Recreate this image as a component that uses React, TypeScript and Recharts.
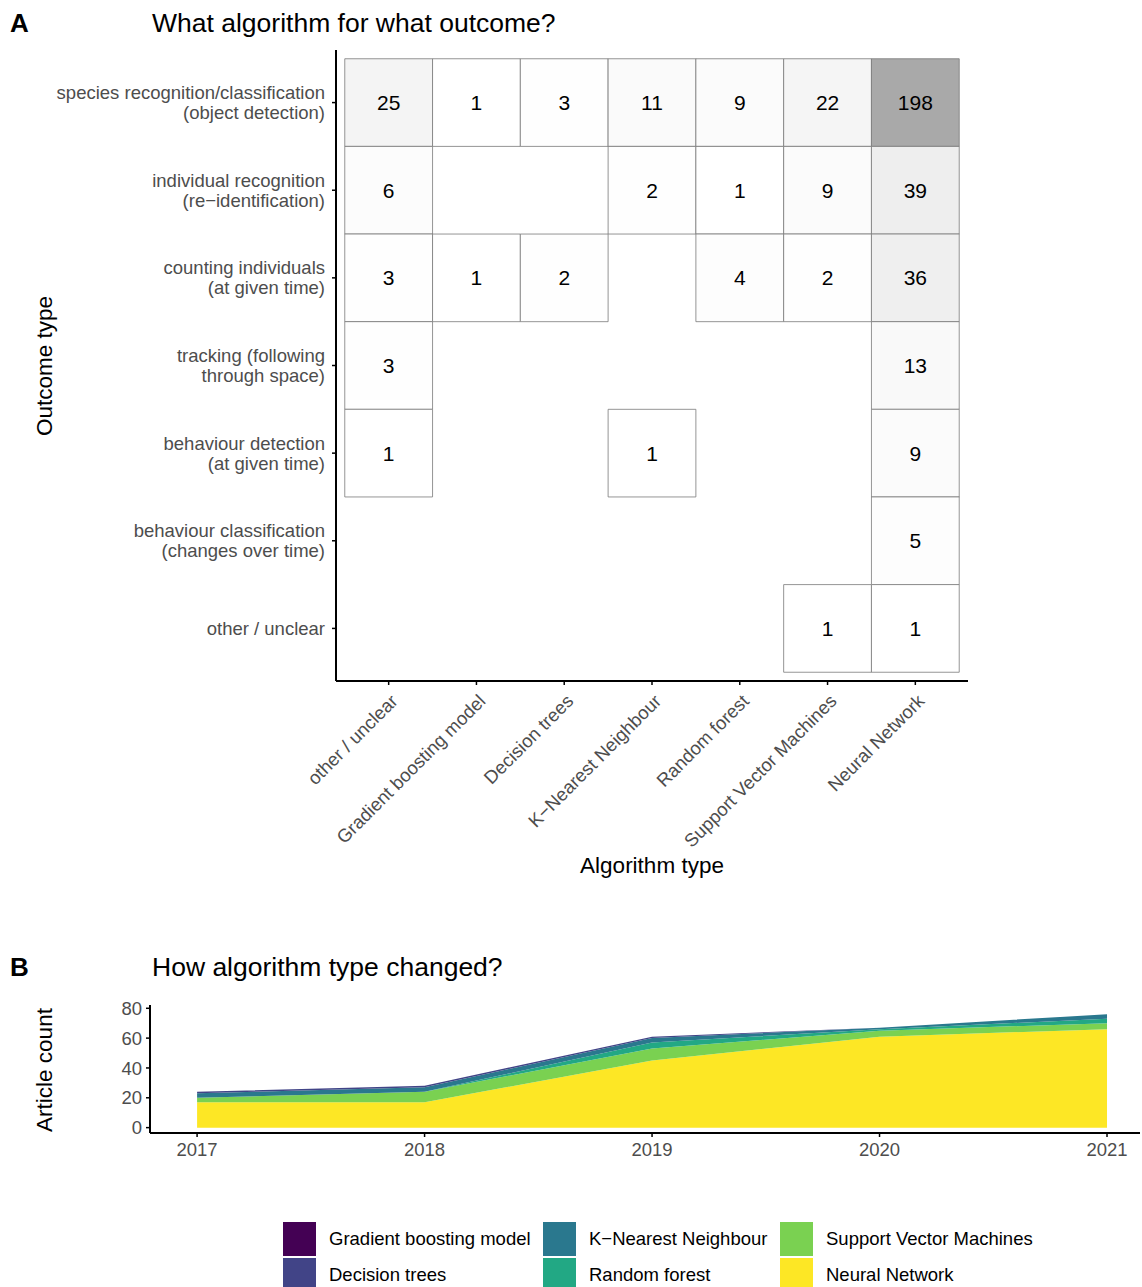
import React from 'react';
import { ScatterChart, Scatter, XAxis, YAxis, ReferenceArea, AreaChart, Area } from 'recharts';

const FONT = '"Liberation Sans", Arial, Helvetica, sans-serif';

// ---------- Panel A data ----------
const algorithms = [
  'other / unclear',
  'Gradient boosting model',
  'Decision trees',
  'K\u2212Nearest Neighbour',
  'Random forest',
  'Support Vector Machines',
  'Neural Network',
];

const outcomeLabels: string[][] = [
  ['species recognition/classification', '(object detection)'],
  ['individual recognition', '(re\u2212identification)'],
  ['counting individuals', '(at given time)'],
  ['tracking (following', 'through space)'],
  ['behaviour detection', '(at given time)'],
  ['behaviour classification', '(changes over time)'],
  ['other / unclear'],
];

const counts: (number | null)[][] = [
  [25, 1, 3, 11, 9, 22, 198],
  [6, null, null, 2, 1, 9, 39],
  [3, 1, 2, null, 4, 2, 36],
  [3, null, null, null, null, null, 13],
  [1, null, null, 1, null, null, 9],
  [null, null, null, null, null, null, 5],
  [null, null, null, null, null, 1, 1],
];

// ---------- Panel B data ----------
const years = [2017, 2018, 2019, 2020, 2021];
const neuralNetwork = [17, 17, 45, 61, 66];
const supportVectorMachines = [3, 7, 8, 4, 4];
const randomForest = [0, 0, 4, 1, 3];
const kNearestNeighbour = [3, 3, 3, 1, 3];
const decisionTrees = [1, 1, 1, 0, 0];
const gradientBoosting = [0, 0, 0, 0, 0];

const series = [
  { key: 'nn', name: 'Neural Network', color: '#FDE725', values: neuralNetwork },
  { key: 'svm', name: 'Support Vector Machines', color: '#7AD151', values: supportVectorMachines },
  { key: 'rf', name: 'Random forest', color: '#22A884', values: randomForest },
  { key: 'knn', name: 'K\u2212Nearest Neighbour', color: '#2A788E', values: kNearestNeighbour },
  { key: 'dt', name: 'Decision trees', color: '#414487', values: decisionTrees },
  { key: 'gb', name: 'Gradient boosting model', color: '#440154', values: gradientBoosting },
];
const legendOrder = ['gb', 'dt', 'knn', 'rf', 'svm', 'nn'];

const nRows = outcomeLabels.length;
const cells: { x: number; y: number; v: number }[] = [];
counts.forEach((row, ri) =>
  row.forEach((v, ci) => {
    if (v !== null) cells.push({ x: ci + 1, y: nRows - ri, v });
  })
);
const maxCount = Math.max(...cells.map((c) => c.v));
const tileColor = (v: number) => {
  const g = Math.round(255 - (255 - 169) * (v / maxCount));
  return `rgb(${g},${g},${g})`;
};

const areaData = years.map((yr, i) => {
  const o: any = { year: yr };
  series.forEach((s) => (o[s.key] = s.values[i]));
  return o;
});

const TICK_FS = 18.5;

const OutcomeTick = (props: any) => {
  const { x, y, payload } = props;
  const lines = outcomeLabels[nRows - payload.value] || [];
  const lh = 20;
  const start = y - ((lines.length - 1) * lh) / 2;
  return (
    <text x={x} y={start} textAnchor="end" fill="#4d4d4d" fontSize={TICK_FS} fontFamily={FONT}>
      {lines.map((l, i) => (
        <tspan key={i} x={x} y={start + i * lh} dy="0.35em">
          {l}
        </tspan>
      ))}
    </text>
  );
};

const AlgoTick = (props: any) => {
  const { x, y, payload } = props;
  const label = algorithms[payload.value - 1] || '';
  const px = x + 1;
  const py = y + 6;
  return (
    <text
      x={px}
      y={py}
      dy="0.71em"
      transform={`rotate(-45, ${px}, ${py})`}
      textAnchor="end"
      fill="#4d4d4d"
      fontSize={TICK_FS}
      fontFamily={FONT}
    >
      {label}
    </text>
  );
};

const axisLine = { stroke: '#000', strokeWidth: 2 };
const tickLine = { stroke: '#000', strokeWidth: 1.5 };
const tickText = { fill: '#4d4d4d', fontSize: TICK_FS, fontFamily: FONT };

export default function App() {
  const legendItems = legendOrder.map((k) => series.find((s) => s.key === k)!);
  return (
    <div style={{ position: 'absolute', left: 0, top: 0, width: 1142, height: 1287, background: '#fff', fontFamily: FONT }}>
      <div style={{ position: 'absolute', left: 0, top: 0 }}>
        <ScatterChart width={1142} height={900} margin={{ top: 50, right: 174, bottom: 0, left: 0 }}>
          <XAxis
            type="number"
            dataKey="x"
            domain={[0.4, 7.6]}
            ticks={[1, 2, 3, 4, 5, 6, 7]}
            allowDataOverflow
            height={219}
            axisLine={axisLine}
            tickLine={tickLine}
            tickSize={4}
            tick={<AlgoTick />}
            interval={0}
          />
          <YAxis
            type="number"
            dataKey="y"
            domain={[0.4, 7.6]}
            ticks={[1, 2, 3, 4, 5, 6, 7]}
            allowDataOverflow
            width={336}
            axisLine={axisLine}
            tickLine={tickLine}
            tickSize={4}
            tickMargin={7}
            tick={<OutcomeTick />}
            interval={0}
          />
          {cells.map((c, i) => (
            <ReferenceArea
              key={i}
              x1={c.x - 0.5}
              x2={c.x + 0.5}
              y1={c.y - 0.5}
              y2={c.y + 0.5}
              fill={tileColor(c.v)}
              fillOpacity={1}
              stroke="#7a7a7a"
              strokeWidth={0.8}
              label={{ value: String(c.v), position: 'center', fill: '#000', fontSize: 21, fontFamily: FONT }}
            />
          ))}
          <Scatter data={cells} isAnimationActive={false} shape={() => <g />} />
        </ScatterChart>
      </div>

      <div style={{ position: 'absolute', left: 0, top: 990 }}>
        <AreaChart width={1142} height={200} data={areaData} margin={{ top: 15, right: 2, bottom: 27, left: 0 }}>
          <XAxis
            dataKey="year"
            type="number"
            domain={[2016.793, 2021.145]}
            ticks={years}
            allowDataOverflow
            height={30}
            axisLine={axisLine}
            tickLine={tickLine}
            tickSize={4}
            tickMargin={6}
            tick={tickText}
            interval={0}
          />
          <YAxis
            type="number"
            domain={[-3.6, 82.2]}
            ticks={[0, 20, 40, 60, 80]}
            allowDataOverflow
            width={150}
            axisLine={axisLine}
            tickLine={tickLine}
            tickSize={4}
            tickMargin={4}
            tick={tickText}
            interval={0}
          />
          {series.map((s) => (
            <Area
              key={s.key}
              dataKey={s.key}
              stackId="1"
              type="linear"
              fill={s.color}
              fillOpacity={1}
              stroke="none"
              isAnimationActive={false}
            />
          ))}
        </AreaChart>
      </div>

      <svg width={1142} height={1287} style={{ position: 'absolute', left: 0, top: 0, pointerEvents: 'none' }}>
        <text x={10} y={32} fontSize={26} fontWeight="bold" fontFamily={FONT} fill="#000">A</text>
        <text x={152} y={32} fontSize={26.5} fontFamily={FONT} fill="#000">What algorithm for what outcome?</text>
        <text x={652} y={873} fontSize={22.5} fontFamily={FONT} fill="#000" textAnchor="middle">Algorithm type</text>
        <text x={52} y={366} fontSize={22.5} fontFamily={FONT} fill="#000" textAnchor="middle" transform="rotate(-90, 52, 366)">Outcome type</text>

        <text x={10} y={976} fontSize={26} fontWeight="bold" fontFamily={FONT} fill="#000">B</text>
        <text x={152} y={976} fontSize={26.5} fontFamily={FONT} fill="#000">How algorithm type changed?</text>
        <text x={52} y={1070} fontSize={22.5} fontFamily={FONT} fill="#000" textAnchor="middle" transform="rotate(-90, 52, 1070)">Article count</text>

        {legendItems.map((s, i) => {
          const colX = [283, 543, 780][Math.floor(i / 2)];
          const rowY = [1222, 1258][i % 2];
          return (
            <g key={s.key}>
              <rect x={colX} y={rowY} width={33} height={34} fill={s.color} />
              <text x={colX + 46} y={rowY + 17} dy="0.35em" fontSize={18.5} fontFamily={FONT} fill="#000">
                {s.name}
              </text>
            </g>
          );
        })}
      </svg>
    </div>
  );
}
